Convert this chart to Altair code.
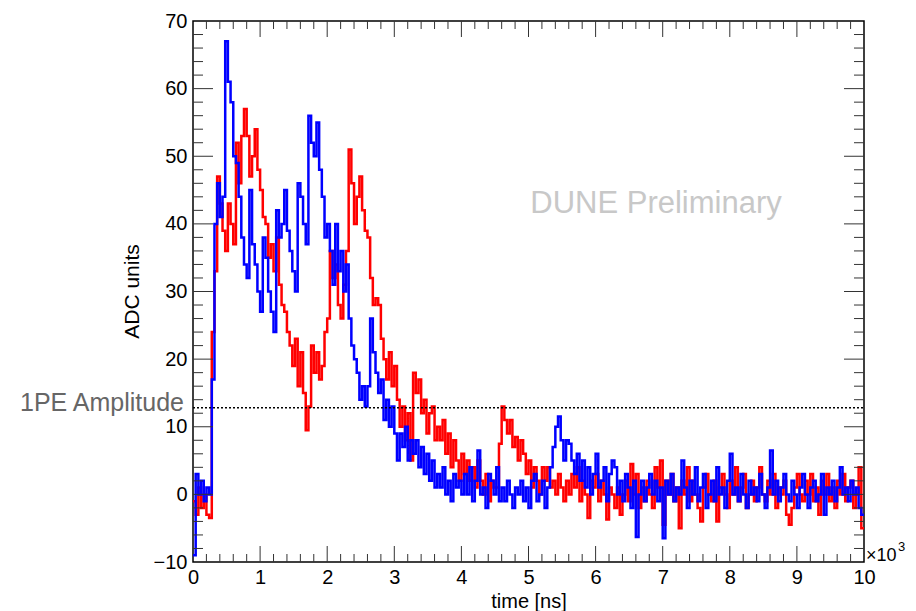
import altair as alt
import pandas as pd

# ---------------- data (ADC units per 40 ns bin, 0 .. 10000 ns) ----------------
BIN_NS = 40

red_adc = [
    -1, -3, 1, -2, 0, -3, -3.5, 24, 33, 47,
    43, 39, 36, 43, 40, 37, 52, 46, 53, 57,
    53, 47, 50, 54, 48, 45, 41, 40, 35, 37,
    33, 38, 31, 28, 27, 24, 22, 19, 23, 16,
    21, 15, 9.5, 13, 22, 18, 21, 17, 19, 24,
    26, 36, 32, 34, 28, 26, 31, 36, 51, 46,
    40, 44, 47, 42, 39, 38, 32, 28, 29, 28,
    23, 20, 17, 21, 16, 19, 14, 10, 13, 8,
    12, 5, 18, 15, 17, 12, 14, 9, 12, 13,
    8, 10, 8, 11, 6, 9, 4, 8, 5, 2,
    6, 3, 5, 2, 4, 1, 5, 2, 0, 3,
    -1, 2, 1, 1, 7.5, 13, 11, 9, 11, 7,
    8.5, 5, 8, 6, 3, 5, 1, 4, 2, 0,
    4, 2, 4, 1, 2, 0, 3, 1, -1, 2,
    0, 3, 1, 4, -1, 2, 0, -3.5, 2, 1,
    3, -1, 2, 0, -3.7, 1, 0, -2, 1, -3,
    0, 2, -1, 4.5, 0, 3, -2, 1, -1, 2,
    0, -2, 4, 1, 5, -4.5, 2, 0, 3, -1,
    1, -5, 2, 0, 4, -1, 2, 0, -2, -4,
    1, 3, 0, -1, 2, -4, 1, 3, 0, -2,
    2, 0, 4, -1, 1, 3, -2, 0, 2, -1,
    1, 4, 0, -1, 2, 0, 3, -2, 1, 0,
    2, -3, -4.5, -2, 1, 3, 0, -1, 2, 0,
    3, -1, 1, -3, 2, 0, 3, -1, 1, -2,
    2, 0, 3, -1, 1, 2, -2, 0, 4, -5,
]

blue_adc = [
    -9, 3, 0, 2, -1, 1, 0, 17, 40, 46,
    41, 44, 67, 61, 58, 50, 49, 44, 38, 34,
    32, 45, 37, 34, 30, 27, 38, 35, 30, 27,
    24, 42, 38, 40, 45, 39, 36, 33, 30, 46,
    44, 40, 37, 56, 52, 50, 55, 48, 44, 38,
    40, 36, 31, 40, 33, 36, 30, 34, 26, 22,
    20, 18, 14, 16, 13, 16, 26, 21, 18, 15,
    17, 11, 14, 10, 13, 9, 5, 9, 7, 10,
    5, 8, 6, 8, 4, 7, 3, 6, 2, 5,
    1, 3, 1, 4, 0, 2, -1, 3, 1, 2,
    0, 3, 0, 4, -1, 2, 6.5, 0, 1, -2,
    3, 2, 0, 4, -1, 1, -1, 2, 0, -2,
    1, 0, 2, -1, 1, -2, 2, 3, -1, 0,
    2, -2, 1, 4, 7, 10, 11.5, 8, 5, 8,
    7.5, 5, 3, 6, 2, 5, 1, 4, 0, 3,
    6, 1, 2, 4, -1, 3, 5, 4, 0, 2,
    -1, 3, 1, -2, 2, -6.3, 0, 2, -1, 1,
    3, 0, 2, -1, 1, -6.5, 2, 0, 3, -1,
    1, 0, 5, 1, -2, 2, 0, 4, -1, 1,
    3, -2, 0, 2, -1, 4, 0, 1, -2, 2,
    6, 0, 1, -1, 3, 0, -2, 2, 0, 1,
    -1, 3, 0, -2, 1, 6.5, 0, 2, -1, 1,
    3, 0, -1, 2, 0, -2, 1, 3, 0, -2,
    1, 2, -1, 0, 3, -3, 1, 0, 2, -1,
    1, 4, 0, 1, -1, 2, 0, 1, -2, -3,
]

x_major_ticks = [0, 1000, 2000, 3000, 4000, 5000, 6000, 7000, 8000, 9000, 10000]
x_minor_ticks = [v for v in range(200, 10000, 200) if v % 1000 != 0]
y_major_ticks = [-10, 0, 10, 20, 30, 40, 50, 60, 70]
y_minor_ticks = [v for v in range(-8, 70, 2) if v % 10 != 0]

one_pe_level = [12.8]

# ---------------- layout constants ----------------
W, H = 671, 541
FONT = "Liberation Sans"


def series_frame(vals):
    t = [i * BIN_NS for i in range(len(vals))] + [len(vals) * BIN_NS]
    v = list(vals) + [vals[-1]]
    return pd.DataFrame({"t": t, "v": v})


xs = alt.Scale(domain=[0, 10000], nice=False, zero=False)
ys = alt.Scale(domain=[-10, 70], nice=False, zero=False)

x_axis = alt.Axis(
    values=x_major_ticks, labelExpr="datum.value / 1000", ticks=False, domain=False,
    grid=False, labelFont=FONT, labelFontSize=20, labelColor="black", labelPadding=5,
    labelFlush=False, labelOverlap=False,
    title="time [ns]", titleFont=FONT, titleFontSize=20, titleFontWeight="normal",
    titleColor="black", titleX=335.5, titleY=45, titleAlign="center",
    titleBaseline="alphabetic",
)
y_axis = alt.Axis(
    values=y_major_ticks, ticks=False, domain=False, grid=False, labelFont=FONT,
    labelFontSize=20, labelColor="black", labelPadding=6, labelFlush=False,
    labelOverlap=False,
    title="ADC units", titleFont=FONT, titleFontSize=21, titleFontWeight="normal",
    titleColor="black", titleX=-55, titleY=270, titleAngle=270, titleAlign="center",
    titleBaseline="alphabetic",
)


def X(field="t"):
    return alt.X(f"{field}:Q", scale=xs, axis=x_axis)


def Y(field="v"):
    return alt.Y(f"{field}:Q", scale=ys, axis=y_axis)


red_line = alt.Chart(series_frame(red_adc)).mark_line(
    interpolate="step-after", strokeWidth=2.5, color="#ff0000", clip=True
).encode(x=X(), y=Y())

blue_line = alt.Chart(series_frame(blue_adc)).mark_line(
    interpolate="step-after", strokeWidth=2.5, color="#0000ff", clip=True
).encode(x=X(), y=Y())


def xticks(vals, length, top):
    df = pd.DataFrame({"t": vals})
    if top:
        y1, y2 = alt.value(0), alt.value(length)
    else:
        y1, y2 = alt.value(H), alt.value(H - length)
    return alt.Chart(df).mark_rule(color="#333333", strokeWidth=1).encode(
        x=X(), y=y1, y2=y2
    )


def yticks(vals, length, right):
    df = pd.DataFrame({"v": vals})
    if right:
        x1, x2 = alt.value(W), alt.value(W - length)
    else:
        x1, x2 = alt.value(0), alt.value(length)
    return alt.Chart(df).mark_rule(color="#333333", strokeWidth=1).encode(
        y=Y(), x=x1, x2=x2
    )


tick_layers = [
    xticks(x_major_ticks[1:-1], 16, False), xticks(x_minor_ticks, 8, False),
    xticks(x_major_ticks[1:-1], 16, True), xticks(x_minor_ticks, 8, True),
    yticks(y_major_ticks[1:-1], 20, False), yticks(y_minor_ticks, 10, False),
    yticks(y_major_ticks[1:-1], 20, True), yticks(y_minor_ticks, 10, True),
]

pe_df = pd.DataFrame({"v": one_pe_level})
pe_line = alt.Chart(pe_df).mark_rule(
    color="black", strokeWidth=1.5, strokeDash=[2, 2]
).encode(y=Y(), x=alt.value(0), x2=alt.value(W))

pe_text = alt.Chart(pe_df).mark_text(
    text="1PE Amplitude", align="right", baseline="alphabetic", dy=3,
    font=FONT, fontSize=25, color="#666666"
).encode(y=Y(), x=alt.value(-9))

dune_df = pd.DataFrame({"t": [6900], "v": [41.6]})
dune_text = alt.Chart(dune_df).mark_text(
    text="DUNE Preliminary", align="center", baseline="alphabetic",
    font=FONT, fontSize=31, color="#c8c8c8"
).encode(x=X(), y=Y())

exp_df = pd.DataFrame({"k": [0]})
exp_text = alt.Chart(exp_df).mark_text(
    text="×10", align="left", baseline="alphabetic", font=FONT, fontSize=18, color="black"
).encode(x=alt.value(673), y=alt.value(H - 1))
exp_sup = alt.Chart(exp_df).mark_text(
    text="3", align="left", baseline="alphabetic", font=FONT, fontSize=13, color="black"
).encode(x=alt.value(705), y=alt.value(H - 11))

chart = alt.layer(
    red_line, blue_line, *tick_layers, pe_line, pe_text, dune_text, exp_text, exp_sup
).properties(
    width=W, height=H,
    padding={"left": 193, "top": 21, "right": 52, "bottom": 49},
    autosize=alt.AutoSizeParams(type="none"),
    background="white",
).configure_view(stroke="black", strokeWidth=1.5)

chart.save("out.html", embed_options={"renderer": "svg", "actions": False})
